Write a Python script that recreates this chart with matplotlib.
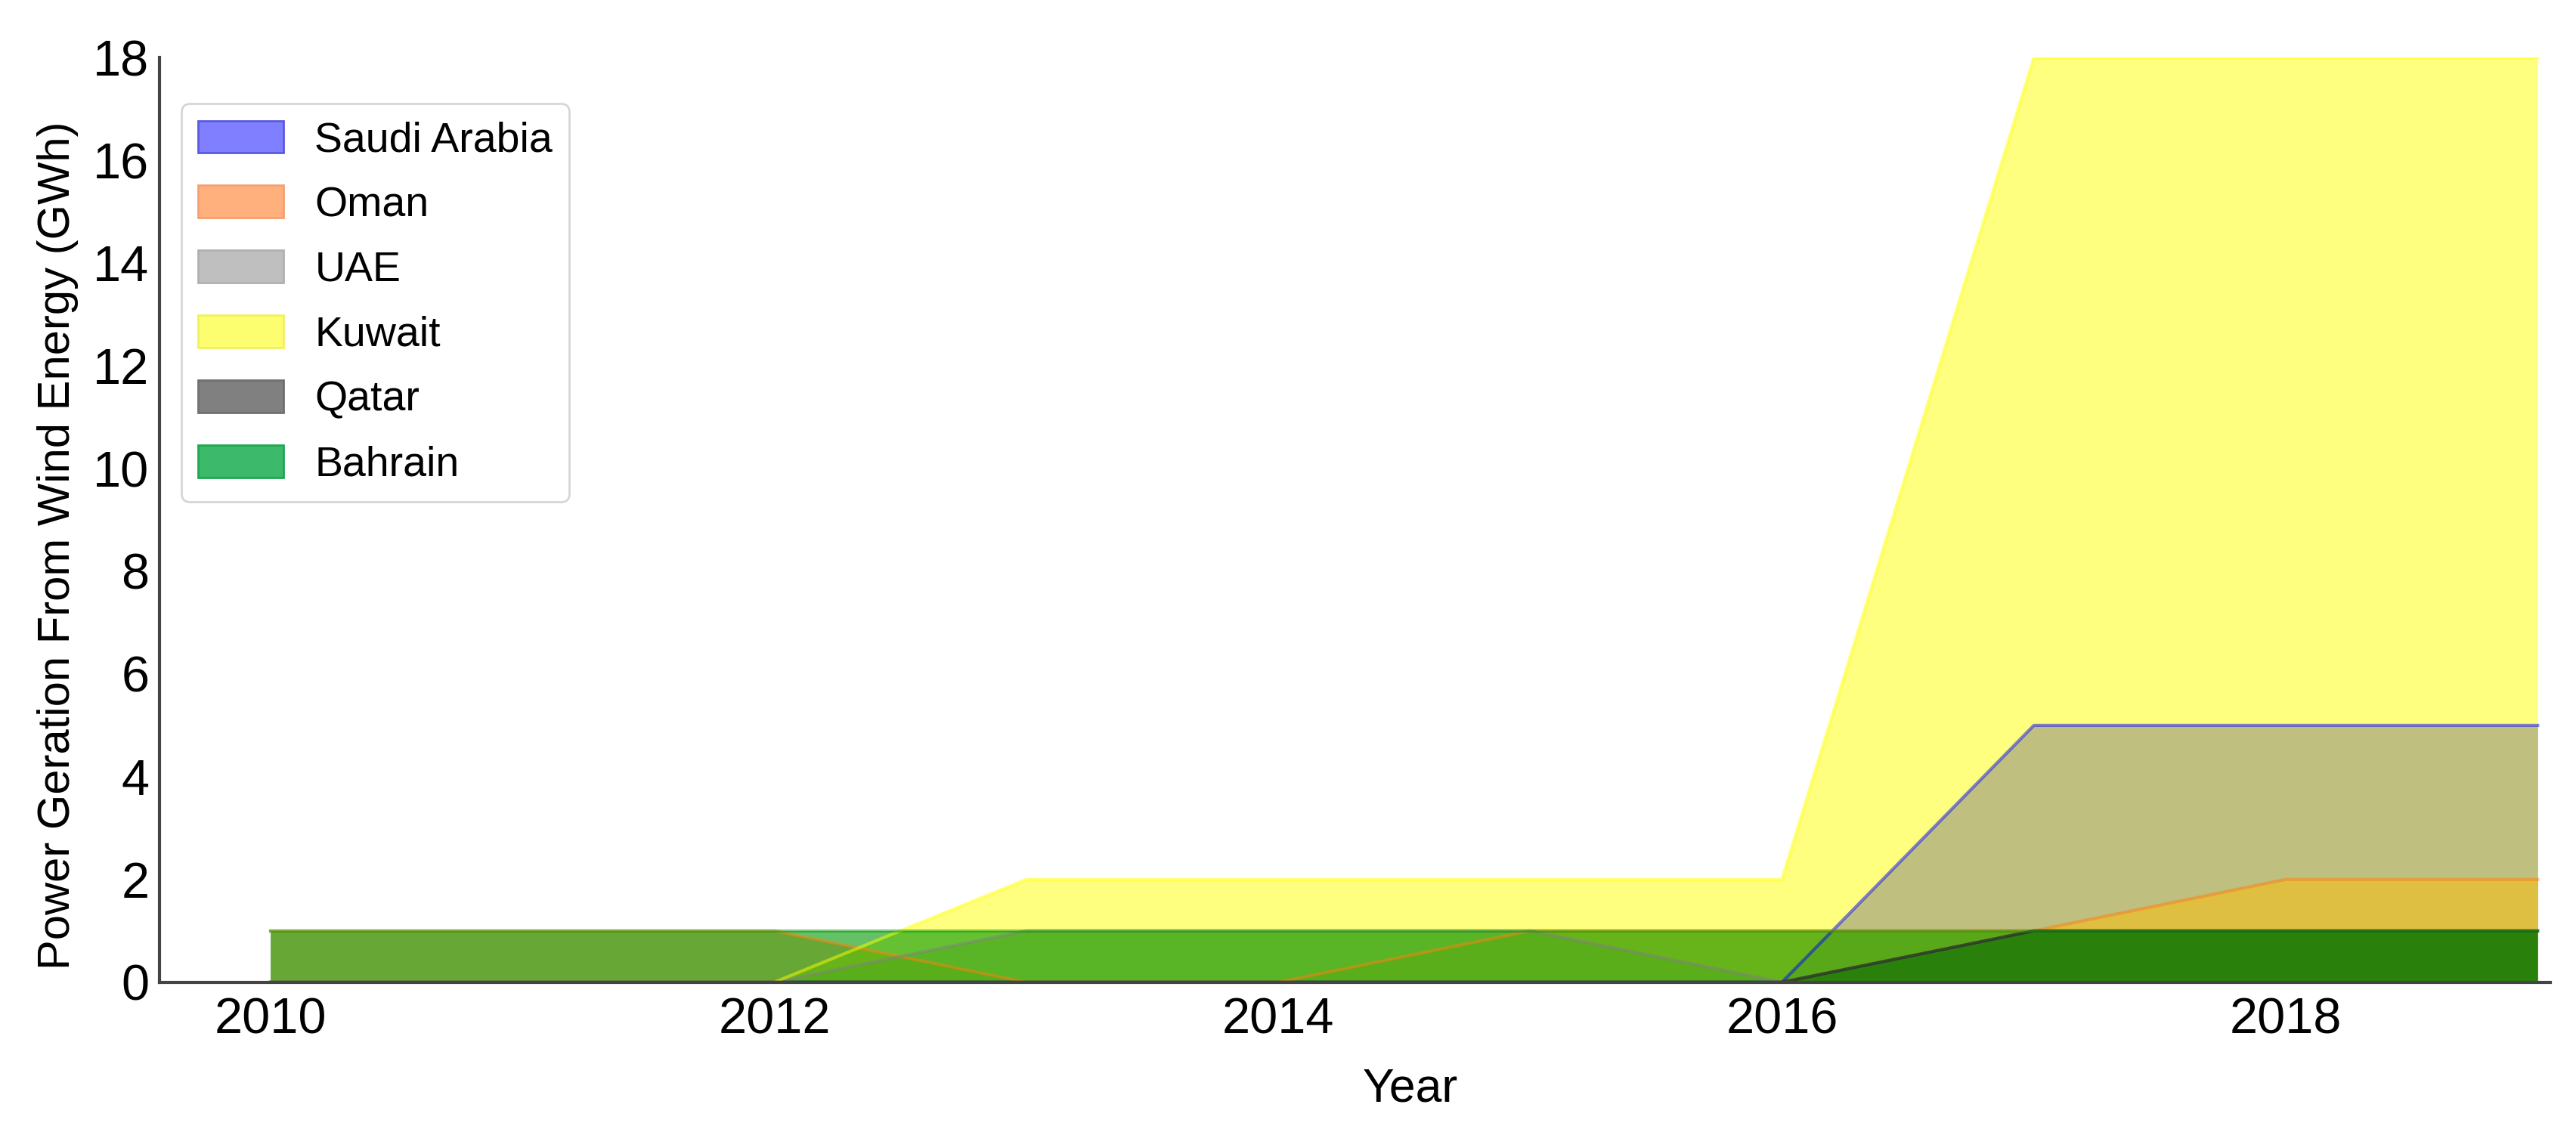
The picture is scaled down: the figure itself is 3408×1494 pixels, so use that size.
import numpy as np
import matplotlib.pyplot as plt
from matplotlib.patches import Patch

# yearly wind generation (GWh) per country
years = np.arange(2010, 2020)
countries = ["Saudi Arabia", "Oman", "UAE", "Kuwait", "Qatar", "Bahrain"]
saudi = [0, 0, 0, 0, 0, 0, 0, 5, 5, 5]
oman = [1, 1, 1, 0, 0, 1, 1, 1, 2, 2]
uae = [0, 0, 0, 1, 1, 1, 0, 1, 1, 1]
kuwait = [0, 0, 0, 2, 2, 2, 2, 18, 18, 18]
qatar = [0, 0, 0, 0, 0, 0, 0, 1, 1, 1]
bahrain = [1, 1, 1, 1, 1, 1, 1, 1, 1, 1]

series = [saudi, oman, uae, kuwait, qatar, bahrain]
fill_colors = ["blue", "#ff7f0e", "gray", "yellow", "black", "#009900"]
fill_alpha = [0.5, 0.5, 0.5, 0.5, 0.5, 0.6]
legend_colors = ["#7f7fff", "#ffb07c", "#bfbfbf", "#fdfd70", "#808080", "#3cb96a"]
edge_colors = ["#5a5ae0", "#f5a070", "#b0b0b0", "#f0f060", "#707070", "#1fa850"]

plt.rcParams["font.family"] = ["Liberation Sans", "DejaVu Sans"]

fig, ax = plt.subplots(figsize=(34.08, 14.94), dpi=100)

for vals, c, a in zip(series, fill_colors, fill_alpha):
    ax.fill_between(years, 0, vals, color=c, alpha=a, linewidth=0)
    ax.plot(years, vals, color=c, alpha=0.5, linewidth=3)

ax.set_xlim(2009.56, 2019.05)
ax.set_ylim(0, 18)
ax.set_yticks(np.arange(0, 19, 2))
ax.set_xticks([2010, 2012, 2014, 2016, 2018])
ax.tick_params(labelsize=48, length=0)
ax.tick_params(axis="x", pad=14)
ax.tick_params(axis="y", pad=10)

for s in ["top", "right"]:
    ax.spines[s].set_visible(False)
for s in ["left", "bottom"]:
    ax.spines[s].set_color("#444444")
    ax.spines[s].set_linewidth(3)

ax.set_xlabel("Year", fontsize=45, x=0.523, labelpad=22)
ax.set_ylabel("Power Geration From Wind Energy (GWh)", fontsize=43, y=0.4725, labelpad=14)

handles = [Patch(facecolor=fc, edgecolor=ec, linewidth=2) for fc, ec in zip(legend_colors, edge_colors)]
leg = ax.legend(handles, countries, loc="upper left", fontsize=40,
                bbox_to_anchor=(0.009, 0.95), borderaxespad=0,
                handlelength=2.03, handleheight=0.8, labelspacing=0.6,
                handletextpad=0.75, borderpad=0.4, frameon=True)
leg.get_frame().set_edgecolor("#cccccc")
leg.get_frame().set_linewidth(2)

plt.subplots_adjust(left=0.062, right=0.99, bottom=0.13, top=0.949)
plt.savefig("out.png", dpi=100)
